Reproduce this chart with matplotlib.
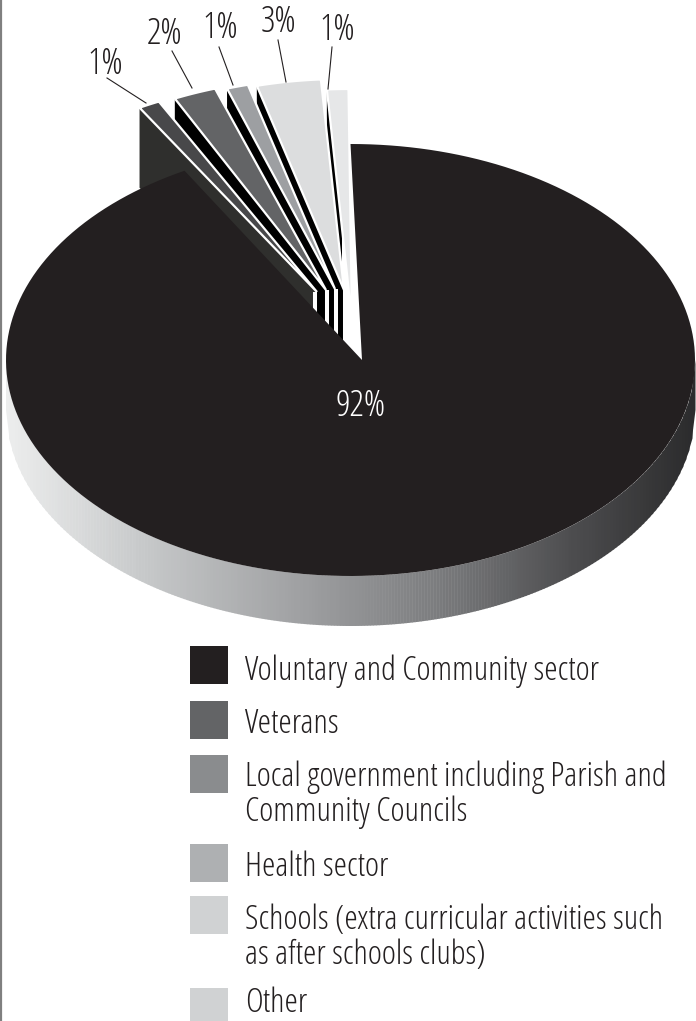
import matplotlib

matplotlib.use("Agg")

import matplotlib.pyplot as plt
import numpy as np
from matplotlib.colors import LinearSegmentedColormap
from matplotlib.collections import PolyCollection
from matplotlib.patches import Polygon, Rectangle

categories = [
    "Voluntary and Community sector",
    "Veterans",
    "Local government including Parish and\nCommunity Councils",
    "Health sector",
    "Schools (extra curricular activities such\nas after schools clubs)",
    "Other",
]
shares = [92, 1, 2, 1, 3, 1]
share_labels = ["92%", "1%", "2%", "1%", "3%", "1%"]

face_colors = ["#231f20", "#48484a", "#636466", "#9d9fa2", "#dcddde", "#e6e7e8"]
legend_colors = ["#231f20", "#636466", "#8a8c8e", "#aeb0b2", "#d0d2d3", "#d0d2d3"]

# layout in image pixels
CENTER_X, CENTER_Y = 350.5, 360
RADIUS_X, RADIUS_Y = 344.5, 216
MAIN_TIP = (362, 360)
MAIN_DEPTH = 50
SLICE_DEPTH = 80

arc_offsets = [None, (-45, -63), (-29, -66), (-17, -66), (-8, -65), (-2, -55)]
slice_tips = [None, (317, 292), (326, 290), (335, 289), (344, 290), (352, 320)]
stub_xs = [None, 315, 327, 336, 345, 342]
label_spots = [(361, 406), (105, 65), (165, 34), (220, 28), (279, 22), (337, 31)]
leader_lines = [
    None,
    ((107, 78), (146, 103)),
    ((172, 51), (192, 88)),
    ((219, 47), (233, 85)),
    ((278, 40), (286, 82)),
    ((332, 47), (328, 89)),
]
legend_tops = [646, 701, 755, 844, 896, 988]
legend_text_y = [671, 724, 795, 867, 938, 1003]

FONT = dict(family="Open Sans", stretch="condensed", weight="light")


def arc_points(start_deg, stop_deg, shift=(0, 0)):
    theta = np.radians(np.linspace(start_deg, stop_deg, 200))
    xs = CENTER_X + shift[0] + RADIUS_X * np.cos(theta)
    ys = CENTER_Y + shift[1] - RADIUS_Y * np.sin(theta)
    return np.column_stack([xs, ys])


def draw_side_wall(ax):
    wall_cmap = LinearSegmentedColormap.from_list(
        "wall",
        [
            (0.0, "#eceded"),
            (0.2, "#c6c8c9"),
            (0.45, "#9b9c9e"),
            (0.62, "#7c7d7f"),
            (0.82, "#4d4d4f"),
            (1.0, "#2b2b2c"),
        ],
    )
    edges = np.linspace(CENTER_X - RADIUS_X, CENTER_X + RADIUS_X, 230)
    strips = []
    strip_colors = []
    for left, right in zip(edges[:-1], edges[1:]):
        y_left = CENTER_Y + RADIUS_Y * np.sqrt(max(0, 1 - ((left - CENTER_X) / RADIUS_X) ** 2))
        y_right = CENTER_Y + RADIUS_Y * np.sqrt(max(0, 1 - ((right - CENTER_X) / RADIUS_X) ** 2))
        strips.append(
            [
                (left, y_left),
                (right + 0.5, y_right),
                (right + 0.5, y_right + MAIN_DEPTH),
                (left, y_left + MAIN_DEPTH),
            ]
        )
        strip_colors.append(wall_cmap((left - edges[0]) / (edges[-1] - edges[0])))
    ax.add_collection(PolyCollection(strips, facecolors=strip_colors, edgecolors="none", zorder=1))


def draw_small_slice(ax, i):
    arc = arc_points(stops[i - 1], stops[i], arc_offsets[i])
    tip = np.array(slice_tips[i], dtype=float)
    stub_x = stub_xs[i]
    # stops run clockwise so arc[0] is the left end of the slice
    start = arc[0]
    if stub_x < tip[0]:
        edge_end = start + (tip - start) * (stub_x - start[0]) / (tip[0] - start[0])
    else:
        edge_end = tip
    wall = [
        start,
        edge_end,
        (stub_x, edge_end[1]),
        (stub_x, edge_end[1] + SLICE_DEPTH),
        (start[0], start[1] + SLICE_DEPTH),
    ]
    wall_color = "#2f2f2d" if i == 1 else "#000000"
    ax.add_patch(Polygon(wall, closed=True, facecolor=wall_color, edgecolor="none", zorder=2))
    if i < 5:
        ax.plot(
            [stub_x, stub_x],
            [tip[1], tip[1] + SLICE_DEPTH],
            color="white",
            linewidth=2.9,
            solid_capstyle="butt",
            zorder=2,
        )
    ax.add_patch(
        Polygon(
            np.vstack([tip, arc]),
            closed=True,
            facecolor=face_colors[i],
            edgecolor="white",
            linewidth=1.6,
            zorder=2,
        )
    )


fig = plt.figure(figsize=(6.96, 10.21), dpi=100)
ax = fig.add_axes([0, 0, 1, 1])
ax.set_xlim(0, 696)
ax.set_ylim(1021, 0)
ax.axis("off")

ax.plot([1, 1], [0, 1021], color="#808080", linewidth=1.6, zorder=1)

# angles run clockwise from twelve o'clock, the big slice first
stops = 90 - np.cumsum(shares) * 3.6
main_stop = stops[0]

# small slices back to front, right to left
for i in range(len(shares) - 1, 0, -1):
    draw_small_slice(ax, i)

draw_side_wall(ax)
ax.add_patch(
    Polygon(
        np.vstack([MAIN_TIP, arc_points(90, main_stop)]),
        closed=True,
        facecolor=face_colors[0],
        edgecolor="none",
        zorder=10,
    )
)

for i, (label, spot) in enumerate(zip(share_labels, label_spots)):
    ax.text(
        spot[0],
        spot[1],
        label,
        color="white" if i == 0 else "#231f20",
        fontsize=26,
        ha="center",
        va="center",
        zorder=12,
        **FONT,
    )
    if leader_lines[i] is not None:
        start, stop = leader_lines[i]
        ax.plot([start[0], stop[0]], [start[1], stop[1]], color="#231f20", linewidth=0.8, zorder=11)

for name, color, top, text_y in zip(categories, legend_colors, legend_tops, legend_text_y):
    ax.add_patch(Rectangle((190, top), 38, 38, facecolor=color, edgecolor="none", zorder=3))
    ax.text(
        245,
        text_y,
        name,
        color="#231f20",
        fontsize=24.5,
        ha="left",
        va="center",
        linespacing=1.06,
        zorder=3,
        **FONT,
    )

fig.savefig("out.png", dpi=100)
plt.close(fig)
